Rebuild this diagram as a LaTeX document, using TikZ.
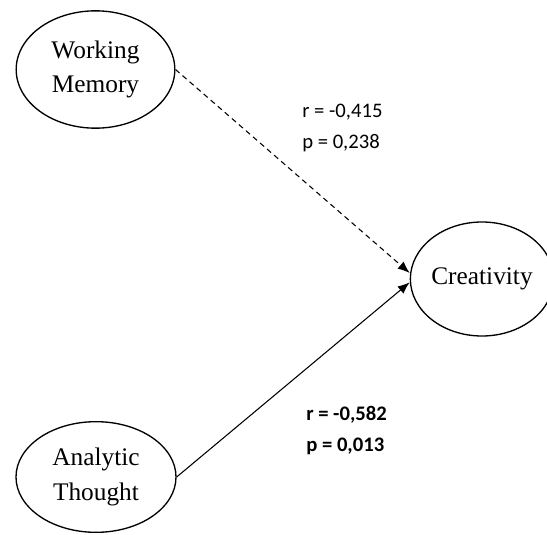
\documentclass[tikz,border=0pt]{standalone}
\usepackage{fontspec}
\setmainfont{Liberation Serif}
\newfontfamily\coefffont{Carlito}
\usepackage{tikz}
\usetikzlibrary{positioning, arrows.meta, shapes.geometric}

\begin{document}
\begin{tikzpicture}[x=0.75pt, y=-0.75pt,
    construct/.style={ellipse, draw, line width=1pt, inner sep=0pt, align=center,
                      font=\fontsize{19}{26}\selectfont},
    coeff/.style={anchor=west, align=left, inner sep=0pt,
                  font=\coefffont\fontsize{15.5}{23}\selectfont},
    path arrow/.style={-{Latex[length=9pt, width=7pt]}, line width=0.8pt}]
  \useasboundingbox (0,0) rectangle (547,535);

  % constructs
  \node[construct, minimum width=119pt, minimum height=88pt] (memory) at (95.5,69.5) {Working\\Memory};
  \node[construct, minimum width=97pt, minimum height=85.5pt] (creativity) at (482,279) {Creativity};
  \node[construct, minimum width=120pt, minimum height=83pt] (analytic) at (96,477) {Analytic\\Thought};

  % paths
  \draw[path arrow, dash pattern=on 4pt off 3pt] (memory.east) -- ([yshift=4.5pt]creativity.west);
  \draw[path arrow] (analytic.east) -- ([yshift=-2.5pt]creativity.west);

  % coefficients
  \node[coeff] (memorycoeff) at (302,128) {r = -0,415\\p = 0,238};
  \node[coeff, font=\coefffont\bfseries\fontsize{15.5}{23}\selectfont] (analyticcoeff) at (306,430.5) {r = -0,582\\p = 0,013};
\end{tikzpicture}
\end{document}
